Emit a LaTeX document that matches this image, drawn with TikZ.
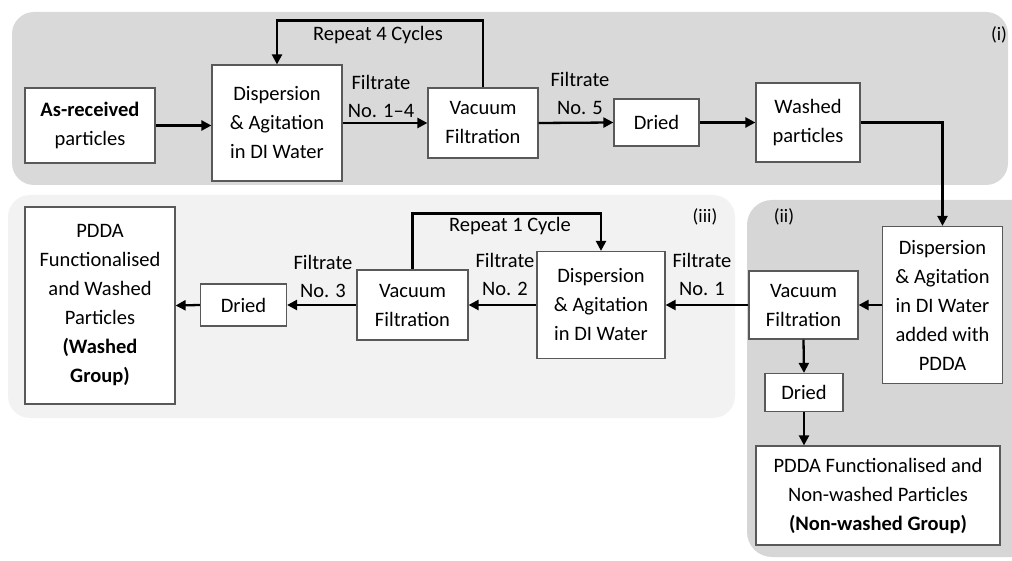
\documentclass[tikz,border=0pt]{standalone}
\usepackage{fontspec}
\setmainfont{Carlito}
\usetikzlibrary{arrows.meta}
\begin{document}
\begin{tikzpicture}[x=1pt,y=-1pt,
  box/.style={draw=black!65, line width=1.2pt, fill=white, align=center, inner sep=0pt,
              font=\fontsize{20.5}{29}\selectfont},
  lbl/.style={align=center, inner sep=0pt, font=\fontsize{20.5}{28}\selectfont},
  tag/.style={inner sep=0pt, font=\fontsize{19}{22}\selectfont},
  arr/.style={-{Triangle[length=10pt,width=10pt]}, line width=2.3pt},
]
\useasboundingbox (0,0) rectangle (1012,561);
\begin{scope}
\clip (0,0) rectangle (1012,561);
% regions
\fill[black!15, rounded corners=22] (12,12) rectangle (1008,185);
\fill[black!5, rounded corners=22] (8,195) rectangle (735,418);
\fill[black!16, rounded corners=25] (747,200) rectangle (1040,557);
\end{scope}
\node[tag] (ti) at (999,35) {(i)};
\node[tag] (tiii) at (705,217) {(iii)};
\node[tag] (tii) at (784,217) {(ii)};

% row (i)
\node[box, minimum width=130, minimum height=75] (asr) at (90,125.5) {\textbf{As-received}\\particles};
\node[box, minimum width=130, minimum height=116] (disp1) at (277,123) {Dispersion\\\& Agitation\\in DI Water};
\node[box, minimum width=110, minimum height=70] (vac1) at (483,123) {Vacuum\\Filtration};
\node[box, minimum width=85, minimum height=47] (dried1) at (656.5,122.5) {Dried};
\node[box, minimum width=104, minimum height=79] (washed) at (808,122.5) {Washed\\particles};

% region (ii)
\node[box, minimum width=120, minimum height=157] (disp2) at (942.5,305) {Dispersion\\\& Agitation\\in DI Water\\added with\\PDDA};
\node[box, minimum width=109, minimum height=68] (vac2) at (803.5,305) {Vacuum\\Filtration};
\node[box, minimum width=78, minimum height=38] (dried2) at (804,392.5) {Dried};
\node[box, minimum width=244, minimum height=99] (pddanw) at (878,495.5) {PDDA Functionalised and\\Non-washed Particles\\\textbf{(Non-washed Group)}};

% region (iii)
\node[box, minimum width=128, minimum height=107] (disp3) at (601,305) {Dispersion\\\& Agitation\\in DI Water};
\node[box, minimum width=111, minimum height=70] (vac3) at (412.5,305) {Vacuum\\Filtration};
\node[box, minimum width=86, minimum height=42] (dried3) at (243.5,305) {Dried};
\node[box, minimum width=150, minimum height=197] (pddaw) at (100,305.5) {PDDA\\Functionalised\\and Washed\\Particles\\\textbf{(Washed}\\\textbf{Group)}};

% connectors row (i)
\draw[arr] (asr.east) -- (asr.east -| disp1.west);
\draw[arr] (disp1.east) -- (vac1.west);
\draw[arr] (vac1.east) -- (dried1.west);
\draw[arr] (dried1.east) -- (washed.west);
\draw[arr] (vac1.north) -- ++(0,-67) -| (disp1.north);
\draw[arr] (washed.east) -| (disp2.north);

% connectors (ii)/(iii)
\draw[arr] (disp2.west) -- (vac2.east);
\draw[arr] (vac2.west) -- (disp3.east);
\draw[arr] (vac2.south) -- (dried2.north);
\draw[arr] (dried2.south) -- (dried2.south |- pddanw.north);
\draw[arr] (disp3.west) -- (vac3.east);
\draw[arr] (vac3.west) -- (dried3.east);
\draw[arr] (dried3.west) -- (pddaw.east);
\draw[arr] (vac3.north) -- ++(0,-56) -| (disp3.north);

% labels
\node[lbl] (r4) at (378,35) {Repeat 4 Cycles};
\node[lbl] (r1) at (510,226) {Repeat 1 Cycle};
\node[lbl] (f14) at (381,96) {Filtrate\\No. 1--4};
\node[lbl] (f5) at (580,93) {Filtrate\\No. 5};
\node[lbl] (f1) at (702,274) {Filtrate\\No. 1};
\node[lbl] (f2) at (505,274) {Filtrate\\No. 2};
\node[lbl] (f3) at (323,276) {Filtrate\\No. 3};
\end{tikzpicture}
\end{document}
